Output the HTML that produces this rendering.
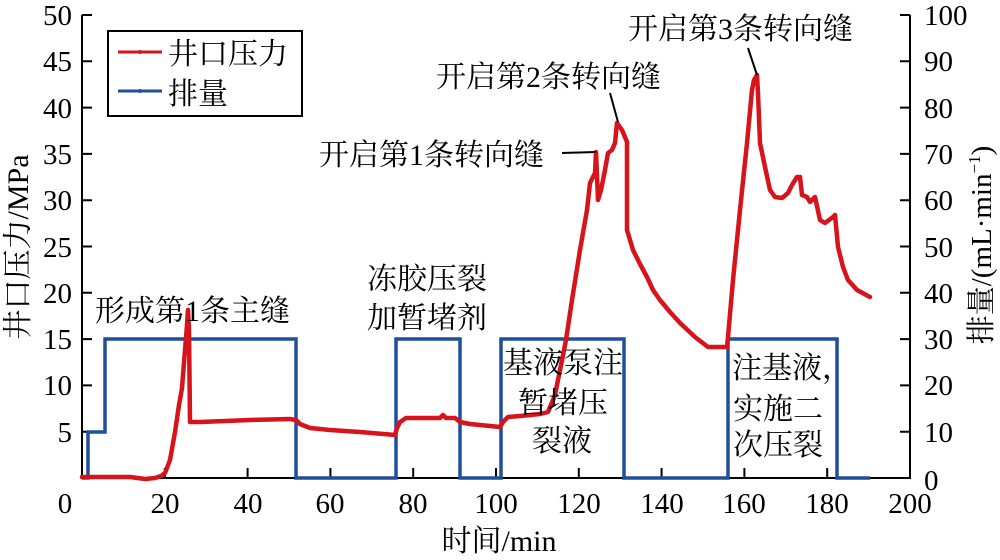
<!DOCTYPE html>
<html><head><meta charset="utf-8"><style>
html,body{margin:0;padding:0;background:#fff;}
svg{display:block;}
text{font-family:"Liberation Serif","Noto Serif CJK SC",serif;fill:#000;}
</style></head><body>
<svg width="1000" height="560" viewBox="0 0 1000 560" xmlns="http://www.w3.org/2000/svg">
<rect width="1000" height="560" fill="#fff"/>
<!-- axes -->
<g stroke="#000" stroke-width="2" fill="none">
<path d="M82,15 L82,478 L910,478 L910,15"/>
<path d="M82,15h10M82,61.3h10M82,107.6h10M82,153.9h10M82,200.2h10M82,246.5h10M82,292.8h10M82,339.1h10M82,385.4h10M82,431.7h10"/>
<path d="M910,15h-10M910,61.3h-10M910,107.6h-10M910,153.9h-10M910,200.2h-10M910,246.5h-10M910,292.8h-10M910,339.1h-10M910,385.4h-10M910,431.7h-10"/>
<path d="M164.8,478v-10M247.6,478v-10M330.4,478v-10M413.2,478v-10M496,478v-10M578.8,478v-10M661.6,478v-10M744.4,478v-10M827.2,478v-10"/>
</g>
<g font-size="29" text-anchor="end">
<text x="72" y="25">50</text>
<text x="72" y="71">45</text>
<text x="72" y="118">40</text>
<text x="72" y="164">35</text>
<text x="72" y="210">30</text>
<text x="72" y="257">25</text>
<text x="72" y="303">20</text>
<text x="72" y="349">15</text>
<text x="72" y="395">10</text>
<text x="72" y="442">5</text>
</g>
<g font-size="29" text-anchor="start">
<text x="924" y="25">100</text>
<text x="924" y="71">90</text>
<text x="924" y="118">80</text>
<text x="924" y="164">70</text>
<text x="924" y="210">60</text>
<text x="924" y="257">50</text>
<text x="924" y="303">40</text>
<text x="924" y="349">30</text>
<text x="924" y="395">20</text>
<text x="924" y="442">10</text>
<text x="924" y="490">0</text>
</g>
<g font-size="29" text-anchor="middle">
<text x="65" y="513">0</text>
<text x="165" y="513">20</text>
<text x="248" y="513">40</text>
<text x="330" y="513">60</text>
<text x="413" y="513">80</text>
<text x="496" y="513">100</text>
<text x="579" y="513">120</text>
<text x="662" y="513">140</text>
<text x="744" y="513">160</text>
<text x="827" y="513">180</text>
<text x="910" y="513">200</text>
</g>
<text x="499" y="551" font-size="30" text-anchor="middle">时间/min</text>
<text transform="translate(28,247) rotate(-90)" font-size="30" text-anchor="middle">井口压力/MPa</text>
<text transform="translate(991,245) rotate(-90)" font-size="29" text-anchor="middle">排量/(mL·min<tspan font-size="17" dy="-11">−1</tspan><tspan dy="11">)</tspan></text>

<path d="M82,478 L88,478 L88,432 L105,432 L105,339 L296,339 L296,478 L396,478 L396,339 L460,339 L460,478 L501,478 L501,339 L624,339 L624,478 L728,478 L728,339 L837,339 L837,478 L870,478" fill="none" stroke="#1f4e9c" stroke-width="3.5" stroke-linejoin="miter"/>

<path d="M82,477 L130,477 L145,479 L155,478 L161,476 L165,473 L170,460 L175,432 L179,405 L182,388 L185,350 L187,325 L188,310 L189,330 L190,422 L200,422 L250,420 L290,419 L296,420 L300,424 L310,428 L330,430 L360,432 L395,435 L397,428 L400,422 L406,418 L420,418 L440,418 L443,415 L446,418 L455,418 L460,422 L470,424 L490,426 L500,427 L503,422 L508,417 L520,416 L540,414 L548,412 L555,395 L560,370 L566,340 L572,300 L580,250 L587,210 L590,183 L595,173 L596,152 L598,200 L601,190 L605,170 L608,153 L612,150 L615,143 L617,123 L622,130 L627,142 L627,230 L633,250 L640,264 L647,277 L653,290 L660,300 L670,312 L680,323 L695,337 L708,347 L727,347 L728,337 L733,280 L740,210 L747,143 L752,90 L754,80 L757,75 L758,93 L760,143 L765,167 L770,190 L775,197 L782,198 L788,193 L792,185 L797,177 L800,177 L802,195 L807,197 L810,202 L815,197 L820,220 L825,223 L833,217 L835,215 L838,247 L843,267 L848,280 L857,290 L870,297" fill="none" stroke="#d7131b" stroke-width="4.5" stroke-linejoin="round" stroke-linecap="round"/>

<g stroke="#000" stroke-width="2">
<line x1="562" y1="153" x2="596" y2="152"/>
<line x1="610" y1="93" x2="618" y2="122"/>
<line x1="748" y1="48" x2="757" y2="75"/>
</g>

<g font-size="30">
<text x="628" y="39">开启第3条转向缝</text>
<text x="436" y="87">开启第2条转向缝</text>
<text x="319" y="165">开启第1条转向缝</text>
<text x="95" y="321">形成第1条主缝</text>
<text x="367" y="289">冻胶压裂</text>
<text x="367" y="328">加暂堵剂</text>
<text x="503" y="373">基液泵注</text>
<text x="563" y="413" text-anchor="middle">暂堵压</text>
<text x="562" y="451" text-anchor="middle">裂液</text>
<text x="732" y="378">注基液，</text>
<text x="733" y="419">实施二</text>
<text x="733" y="455">次压裂</text>
</g>

<rect x="108" y="31" width="194" height="85" fill="#fff" stroke="#000" stroke-width="2"/>
<line x1="118" y1="52" x2="162" y2="52" stroke="#d7131b" stroke-width="3"/>
<circle cx="140" cy="52" r="2" fill="#d7131b"/>
<line x1="118" y1="91" x2="162" y2="91" stroke="#1f4e9c" stroke-width="3"/>
<circle cx="140" cy="91" r="2" fill="#1f4e9c"/>
<text x="168" y="64" font-size="30">井口压力</text>
<text x="168" y="104" font-size="30">排量</text>
</svg>
</body></html>
